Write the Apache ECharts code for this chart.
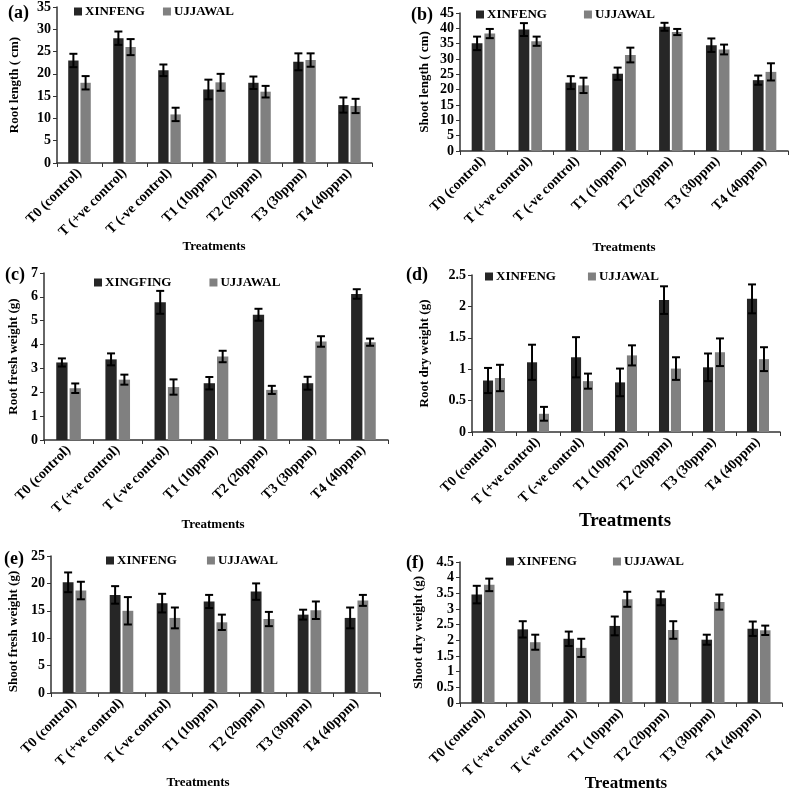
<!DOCTYPE html>
<html>
<head>
<meta charset="utf-8">
<script src="https://cdn.jsdelivr.net/npm/echarts@6/dist/echarts.min.js"></script>
<style>
  html, body { margin: 0; padding: 0; background: #fff; }
  #stage { width: 798px; height: 792px; }
</style>
</head>
<body>
<div id="stage"></div>
<script>
'use strict';

const myChart = echarts.init(document.getElementById('stage'));

const categories = ['T0 (control)', 'T (+ve control)', 'T (-ve control)', 'T1 (10ppm)', 'T2 (20ppm)', 'T3 (30ppm)', 'T4 (40ppm)'];

// (a) root length
const rootLenX = [23.0, 28.0, 20.8, 16.5, 18.0, 22.7, 13.0];
const rootLenXErr = [1.5, 1.5, 1.3, 2.2, 1.4, 1.9, 1.7];
const rootLenU = [18.0, 26.0, 10.9, 18.1, 16.0, 23.1, 12.8];
const rootLenUErr = [1.5, 1.8, 1.5, 1.9, 1.3, 1.5, 1.6];

// (b) shoot length
const shootLenX = [35.1, 39.6, 22.3, 25.2, 40.5, 34.5, 23.1];
const shootLenXErr = [2.2, 2.1, 2.1, 2.0, 1.3, 2.2, 1.5];
const shootLenU = [38.3, 35.8, 21.4, 31.3, 38.8, 33.1, 25.8];
const shootLenUErr = [1.5, 1.5, 2.5, 2.4, 1.0, 1.6, 2.8];

// (c) root fresh weight
const rootFreshX = [3.25, 3.38, 5.77, 2.38, 5.25, 2.38, 6.12];
const rootFreshXErr = [0.17, 0.25, 0.48, 0.26, 0.25, 0.27, 0.2];
const rootFreshU = [2.17, 2.53, 2.22, 3.5, 2.1, 4.13, 4.1];
const rootFreshUErr = [0.2, 0.21, 0.32, 0.24, 0.17, 0.22, 0.15];

// (d) root dry weight
const rootDryX = [0.82, 1.11, 1.19, 0.79, 2.1, 1.03, 2.12];
const rootDryXErr = [0.2, 0.28, 0.32, 0.22, 0.22, 0.22, 0.23];
const rootDryU = [0.86, 0.29, 0.81, 1.22, 1.01, 1.27, 1.16];
const rootDryUErr = [0.21, 0.11, 0.12, 0.16, 0.18, 0.22, 0.19];

// (e) shoot fresh weight
const shootFreshX = [20.2, 17.9, 16.4, 16.7, 18.5, 14.3, 13.7];
const shootFreshXErr = [1.8, 1.6, 1.7, 1.2, 1.5, 0.9, 1.9];
const shootFreshU = [18.7, 15.0, 13.7, 12.9, 13.5, 15.1, 16.9];
const shootFreshUErr = [1.6, 2.5, 1.9, 1.4, 1.3, 1.6, 1.0];

// (f) shoot dry weight
const shootDryX = [3.46, 2.35, 2.05, 2.46, 3.34, 2.02, 2.37];
const shootDryXErr = [0.28, 0.26, 0.23, 0.3, 0.22, 0.16, 0.23];
const shootDryU = [3.77, 1.94, 1.76, 3.31, 2.33, 3.22, 2.32];
const shootDryUErr = [0.2, 0.24, 0.29, 0.24, 0.28, 0.24, 0.15];

const DARK = '#262626';
const GRAY = '#808080';
const FONT = 'Liberation Serif';
const BAR_FRAC = 0.23;
const GAP_FRAC = 0.18;

const panels = [
  { tag: '(a)', tagPos: [8, 4], rect: [57, 7, 315, 156], max: 35, step: 5, yName: 'Root length ( cm)', yGap: 36, yShift: 0,
    names: ['XINFENG', 'UJJAWAL'], legend: [74, 5, 18], xName: [214, 247, 13],
    x: rootLenX, xe: rootLenXErr, u: rootLenU, ue: rootLenUErr },
  { tag: '(b)', tagPos: [411, 6], rect: [460, 13, 328, 138], max: 45, step: 5, yName: 'Shoot length ( cm)', yGap: 29, yShift: 0,
    names: ['XINFENG', 'UJJAWAL'], legend: [476, 8, 37], xName: [624, 248, 13],
    x: shootLenX, xe: shootLenXErr, u: shootLenU, ue: shootLenUErr },
  { tag: '(c)', tagPos: [5, 266], rect: [44, 273, 344, 167], max: 7, step: 1, yName: 'Root fresh weight (g)', yGap: 24, yShift: 0,
    names: ['XINGFING', 'UJJAWAL'], legend: [94, 276, 38], xName: [213, 525, 13],
    x: rootFreshX, xe: rootFreshXErr, u: rootFreshU, ue: rootFreshUErr },
  { tag: '(d)', tagPos: [406, 266], rect: [472, 275, 308, 157], max: 2.5, step: 0.5, yName: 'Root dry weight (g)', yGap: 41, yShift: 0,
    names: ['XINFENG', 'UJJAWAL'], legend: [485, 270, 32], xName: [625, 521, 19],
    x: rootDryX, xe: rootDryXErr, u: rootDryU, ue: rootDryUErr },
  { tag: '(e)', tagPos: [4, 550], rect: [51, 556, 329, 137], max: 25, step: 5, yName: 'Shoot fresh weight (g)', yGap: 31, yShift: 14,
    names: ['XINFENG', 'UJJAWAL'], legend: [106, 554, 30], xName: [198, 783, 13],
    x: shootFreshX, xe: shootFreshXErr, u: shootFreshU, ue: shootFreshUErr },
  { tag: '(f)', tagPos: [406, 554], rect: [460, 562, 322, 141], max: 4.5, step: 0.5, yName: 'Shoot dry weight (g)', yGap: 35, yShift: 0,
    names: ['XINFENG', 'UJJAWAL'], legend: [506, 555, 36], xName: [626, 784, 17],
    x: shootDryX, xe: shootDryXErr, u: shootDryU, ue: shootDryUErr }
];

function errorBars(gi, vals, errs, sign) {
  return {
    type: 'custom',
    xAxisIndex: gi,
    yAxisIndex: gi,
    silent: true,
    z: 5,
    encode: { x: 0, y: 1 },
    data: vals.map((v, i) => [i, v, errs[i]]),
    renderItem: function (params, api) {
      const i = api.value(0), v = api.value(1), e = api.value(2);
      const hi = api.coord([i, v + e]);
      const lo = api.coord([i, v - e]);
      const bw = api.size([1, 0])[0] * BAR_FRAC;
      const cx = hi[0] + sign * bw * (1 + GAP_FRAC) / 2;
      const cap = 4;
      const st = { stroke: '#000', lineWidth: 2 };
      return {
        type: 'group',
        children: [
          { type: 'line', shape: { x1: cx, y1: hi[1], x2: cx, y2: lo[1] }, style: st },
          { type: 'line', shape: { x1: cx - cap, y1: hi[1], x2: cx + cap, y2: hi[1] }, style: st },
          { type: 'line', shape: { x1: cx - cap, y1: lo[1], x2: cx + cap, y2: lo[1] }, style: st }
        ]
      };
    }
  };
}

const boldText = { fontFamily: FONT, fontWeight: 'bold', color: '#000' };
const axisLine = { show: true, lineStyle: { color: '#333', width: 1.5 } };

let grids = [], xAxes = [], yAxes = [], series = [], legends = [], graphics = [];

panels.forEach((p, gi) => {
  grids.push({ left: p.rect[0], top: p.rect[1], width: p.rect[2], height: p.rect[3] });
  xAxes.push({
    type: 'category',
    gridIndex: gi,
    data: categories,
    axisLine: axisLine,
    axisTick: { show: true, length: 4, lineStyle: { color: '#333', width: 1 } },
    axisLabel: Object.assign({ rotate: 45, fontSize: 14, margin: 8, interval: 0 }, boldText)
  });
  yAxes.push({
    type: 'value',
    gridIndex: gi,
    min: 0,
    max: p.max,
    interval: p.step,
    name: p.yName,
    nameLocation: 'middle',
    nameGap: p.yGap,
    nameTextStyle: Object.assign({ fontSize: 13, padding: [0, p.yShift, 0, 0] }, boldText),
    splitLine: { show: false },
    axisLine: axisLine,
    axisTick: { show: true, length: 4, lineStyle: { color: '#333', width: 1 } },
    axisLabel: Object.assign({ fontSize: 14, margin: 6 }, boldText)
  });
  series.push({
    name: p.names[0], type: 'bar', xAxisIndex: gi, yAxisIndex: gi,
    barWidth: (BAR_FRAC * 100) + '%', barGap: (GAP_FRAC * 100) + '%',
    itemStyle: { color: DARK }, data: p.x
  });
  series.push({
    name: p.names[1], type: 'bar', xAxisIndex: gi, yAxisIndex: gi,
    barWidth: (BAR_FRAC * 100) + '%', barGap: (GAP_FRAC * 100) + '%',
    itemStyle: { color: GRAY }, data: p.u
  });
  series.push(errorBars(gi, p.x, p.xe, -1));
  series.push(errorBars(gi, p.u, p.ue, 1));
  legends.push({
    data: p.names,
    left: p.legend[0],
    top: p.legend[1],
    itemGap: p.legend[2],
    itemWidth: 8,
    itemHeight: 8,
    icon: 'rect',
    padding: 0,
    textStyle: Object.assign({ fontSize: 13, padding: [0, 0, 0, -2] }, boldText)
  });
  graphics.push({
    type: 'text', left: p.tagPos[0], top: p.tagPos[1],
    style: { text: p.tag, font: 'bold 18px "Liberation Serif"', fill: '#000' }
  });
  graphics.push({
    type: 'text', x: p.xName[0], y: p.xName[1],
    style: { text: 'Treatments', font: 'bold ' + p.xName[2] + 'px "Liberation Serif"', fill: '#000', align: 'center', verticalAlign: 'middle' }
  });
});

const option = {
  backgroundColor: '#fff',
  animation: false,
  grid: grids,
  xAxis: xAxes,
  yAxis: yAxes,
  legend: legends,
  graphic: graphics,
  series: series
};

myChart.setOption(option);
</script>
</body>
</html>
